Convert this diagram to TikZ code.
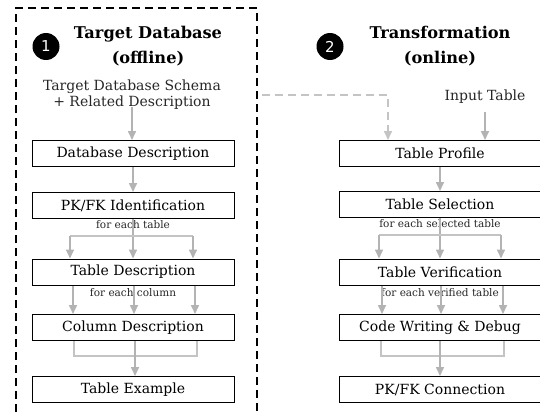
\documentclass[tikz,border=0pt]{standalone}
\usepackage{fontspec}
\setmainfont{DejaVu Serif}
\newfontfamily\numfont{DejaVu Sans}
\usetikzlibrary{arrows.meta}
\definecolor{arrgray}{HTML}{B3B3B3}
\definecolor{linegray}{HTML}{C4C4C4}
\tikzset{
  stepbox/.style={draw=black, line width=1pt, minimum width=202pt, minimum height=26pt, inner sep=0pt, font=\fontsize{14}{16}\selectfont},
  lbl/.style={inner sep=0pt, font=\fontsize{10.5}{12}\selectfont, text=black!85},
  ttl/.style={align=center, font=\bfseries\fontsize{16.2}{25}\selectfont},
  src/.style={align=center, inner sep=0pt, font=\fontsize{14}{16}\selectfont, text=black!85},
  num/.style={circle, fill=black, minimum size=27pt, inner sep=0pt, text=white, font=\numfont\fontsize{15}{15}\selectfont},
  arr/.style={draw=arrgray, line width=1.6pt, -{Triangle[width=8pt,length=9pt]}},
  mline/.style={draw=linegray, line width=1.6pt},
  dbox/.style={draw=black, line width=1.6pt, dash pattern=on 8pt off 5pt},
  darr/.style={draw=linegray, line width=1.6pt, dash pattern=on 8pt off 5pt, -{Triangle[width=8pt,length=9pt]}}
}
\begin{document}
\begin{tikzpicture}[x=1pt,y=-1pt]
\useasboundingbox (0,0) rectangle (540,412);
% offline frame
\draw[dbox] (16,412) -- (16,8) -- (257,8) -- (257,412);
\coordinate (dstart) at (262,95);
% left column
\node[num] (c1) at (46,46.5) {1};
\node[ttl] (t1) at (148,46) {Target Database\\(offline)};
\node[src] (s1) at (132,95) {Target Database Schema\\+ Related Description};
\node[stepbox] (db) at (133,153.5) {Database Description};
\node[stepbox] (pk) at (133,205.5) {PK/FK Identification};
\node[lbl] (l1) at (133,225) {for each table};
\node[stepbox] (td) at (133,272) {Table Description};
\node[lbl] (l2) at (133,293) {for each column};
\node[stepbox] (cd) at (133,327.5) {Column Description};
\node[stepbox] (te) at (133,389.5) {Table Example};
% right column
\node[num] (c2) at (330,46.5) {2};
\node[ttl] (t2) at (440,46) {Transformation\\(online)};
\node[src] (in) at (485,97) {Input Table};
\node[stepbox] (tp) at (440,153.5) {Table Profile};
\node[stepbox] (ts) at (440,204.5) {Table Selection};
\node[lbl] (l3) at (440,224) {for each selected table};
\node[stepbox] (tv) at (440,272) {Table Verification};
\node[lbl] (l4) at (440,293) {for each verified table};
\node[stepbox] (cw) at (440,327.5) {Code Writing \& Debug};
\node[stepbox] (pc) at (440,389.5) {PK/FK Connection};
% left arrows
\draw[arr] ([yshift=3pt]s1.south) -- (s1.south |- db.north);
\draw[arr] (db.south) -- (pk.north);
\coordinate (b1) at (133,236);
\draw[arr] (pk.south) -- (td.north);
\draw[mline] ([xshift=-63pt]b1) -- ([xshift=60pt]b1);
\draw[arr] ([xshift=-63pt]b1) -- ([xshift=-63pt]td.north);
\draw[arr] ([xshift=60pt]b1) -- ([xshift=60pt]td.north);
\draw[arr] ([xshift=-60pt]td.south) -- ([xshift=-60pt]cd.north);
\draw[arr] ([xshift=1pt]td.south) -- ([xshift=1pt]cd.north);
\draw[arr] ([xshift=62pt]td.south) -- ([xshift=62pt]cd.north);
\coordinate (m1) at (135,356);
\draw[mline] ([xshift=-59pt]cd.south) |- (m1) -| ([xshift=64pt]cd.south);
\draw[arr] ([xshift=2pt]cd.south) -- ([xshift=2pt]te.north);
% right arrows
\draw[darr] (dstart) -| ([xshift=-52pt]tp.north);
\draw[arr] ([yshift=-8pt]in.south) -- (in.south |- tp.north);
\draw[arr] (tp.south) -- (ts.north);
\coordinate (b2) at (440,235);
\draw[arr] (ts.south) -- (tv.north);
\draw[mline] ([xshift=-61pt]b2) -- ([xshift=61pt]b2);
\draw[arr] ([xshift=-61pt]b2) -- ([xshift=-61pt]tv.north);
\draw[arr] ([xshift=61pt]b2) -- ([xshift=61pt]tv.north);
\draw[arr] ([xshift=-58pt]tv.south) -- ([xshift=-58pt]cw.north);
\draw[arr] ([xshift=1pt]tv.south) -- ([xshift=1pt]cw.north);
\draw[arr] ([xshift=63pt]tv.south) -- ([xshift=63pt]cw.north);
\coordinate (m2) at (440,356);
\draw[mline] ([xshift=-59pt]cw.south) |- (m2) -| ([xshift=64pt]cw.south);
\draw[arr] (cw.south) -- (pc.north);
\end{tikzpicture}
\end{document}
